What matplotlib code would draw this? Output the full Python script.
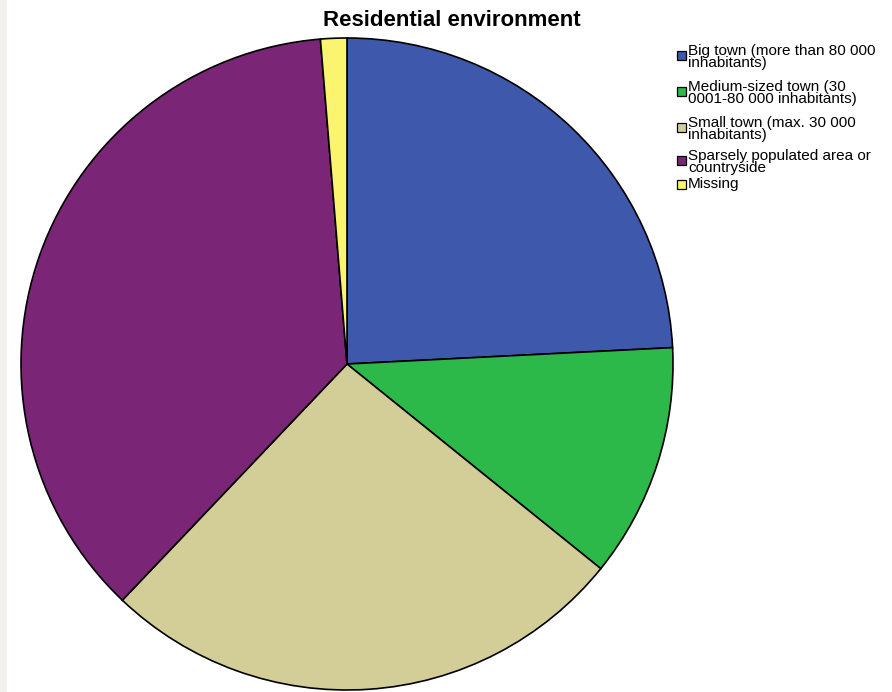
import matplotlib
matplotlib.use("Agg")
import matplotlib.pyplot as plt
from matplotlib.patches import Rectangle

plt.rcParams['font.family'] = ['Liberation Sans', 'DejaVu Sans']

# Share of respondents by residential environment (%)
categories = [
    "Big town (more than 80 000\ninhabitants)",
    "Medium-sized town (30\n0001-80 000 inhabitants)",
    "Small town (max. 30 000\ninhabitants)",
    "Sparsely populated area or\ncountryside",
    "Missing",
]
shares = [24.2, 11.6, 26.3, 36.6, 1.3]
colors = ["#3e58ac", "#2db84a", "#d3ce97", "#7b2577", "#fbf46f"]
title = "Residential environment"

W, H = 892, 692
fig = plt.figure(figsize=(W / 100, H / 100), dpi=100)
fig.patch.set_facecolor("white")

# faint grey strip along the left border
fig.patches.append(Rectangle((0, 0), 7 / W, 1, transform=fig.transFigure,
                             facecolor="#f3f1ee", edgecolor="none", zorder=0))

ax = fig.add_axes([0, 0, 1, 1])
ax.pie(shares, colors=colors, startangle=90, counterclock=False,
       center=(347, H - 364), radius=326,
       wedgeprops=dict(edgecolor="black", linewidth=1.2))
ax.set_xlim(0, W)
ax.set_ylim(0, H)
ax.set_aspect("equal")
ax.axis("off")

fig.text(452 / W, 1 - 21 / H, title, ha="center", va="center",
         fontsize=16, fontweight="bold")

# legend: one square and a two-line label per category
entry_tops = [44, 80, 116, 149, 177]
for label, col, top in zip(categories, colors, entry_tops):
    nlines = label.count("\n") + 1
    sq_y = top + 7 if nlines > 1 else top + 3
    fig.patches.append(Rectangle((677 / W, 1 - (sq_y + 9) / H), 9 / W, 9 / H,
                                 transform=fig.transFigure, facecolor=col,
                                 edgecolor="black", linewidth=0.9))
    fig.text(688 / W, 1 - top / H, label, ha="left", va="top",
             fontsize=11, linespacing=0.82)

fig.savefig("out.png", dpi=100)
